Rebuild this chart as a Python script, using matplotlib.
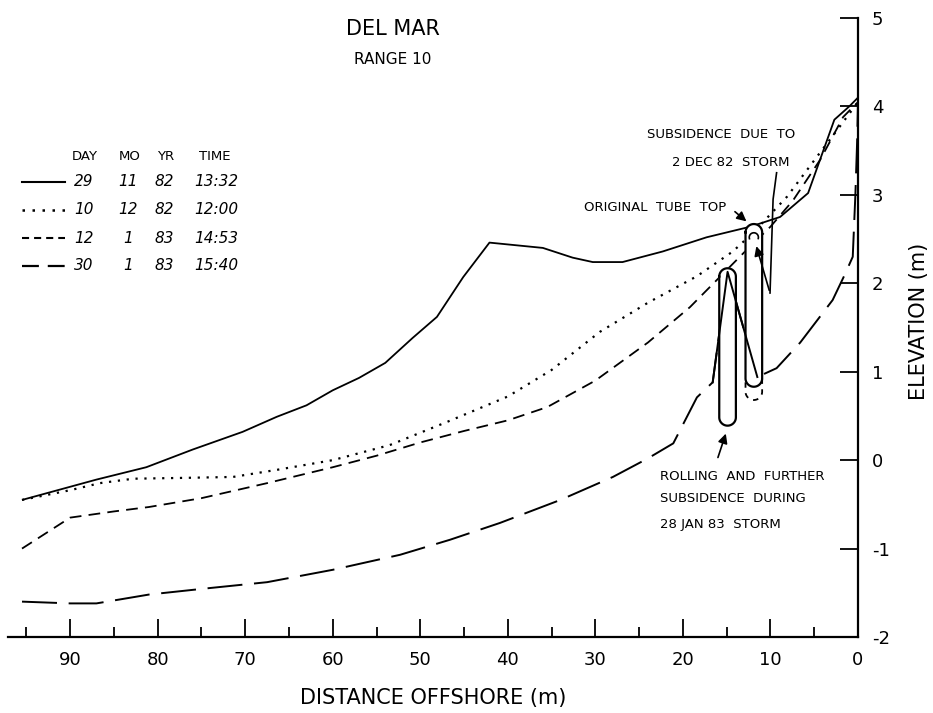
import numpy as np
import matplotlib
matplotlib.use("Agg")
import matplotlib.pyplot as plt

# Beach profiles, Del Mar range 10 (distance offshore in m, elevation in m)
x_29nov = [95.5, 87, 81.3, 76, 70.3, 66.4, 63, 60, 57, 54, 50.9, 48.1, 45.1, 42.1,
           36, 32.6, 30.3, 26.9, 22.3, 17.3, 12.3, 8.9, 5.7, 2.7, 1, 0]
y_29nov = [-0.45, -0.22, -0.08, 0.12, 0.32, 0.49, 0.62, 0.79, 0.93, 1.10, 1.38, 1.62, 2.07, 2.46,
           2.40, 2.29, 2.24, 2.24, 2.36, 2.52, 2.64, 2.75, 3.02, 3.85, 4.0, 4.1]

x_10dec = [95.5, 90, 86.6, 82.8, 76.7, 71.4, 66.4, 60, 53.5, 47, 40, 35, 29.5, 24,
           18.4, 14.3, 12, 8.1, 4.7, 2.1, 0]
y_10dec = [-0.45, -0.34, -0.26, -0.21, -0.20, -0.19, -0.11, 0.0, 0.17, 0.43, 0.72, 1.02, 1.45, 1.78,
           2.08, 2.36, 2.57, 2.98, 3.43, 3.77, 4.05]

x_12jan = [95.5, 90, 85, 81, 75, 67.5, 60, 55, 50, 45, 40, 35.5, 30, 24,
           19.2, 15.8, 13.1, 10, 7.4, 4.3, 1.7, 0]
y_12jan = [-1.0, -0.65, -0.58, -0.53, -0.43, -0.26, -0.08, 0.05, 0.2, 0.33, 0.45, 0.6, 0.9, 1.33,
           1.73, 2.07, 2.34, 2.64, 2.94, 3.40, 3.88, 4.05]

x_30jan = [95.5, 90, 87, 81, 74.4, 67.5, 60, 52.3, 46.6, 40.9, 34, 28, 24, 21.1,
           18.4, 16.6, 14.9, 11.5, 9.3, 6.6, 2.9, 1.5, 0.6, 0.3, 0.1, 0]
y_30jan = [-1.60, -1.62, -1.62, -1.52, -1.45, -1.38, -1.24, -1.07, -0.90, -0.71, -0.45, -0.19, 0.02, 0.19,
           0.71, 0.88, 2.13, 0.94, 1.04, 1.33, 1.81, 2.1, 2.3, 3.0, 3.6, 4.05]

# legend table
leg_day = ["29", "10", "12", "30"]
leg_mo = ["11", "12", "1", "1"]
leg_yr = ["82", "82", "83", "83"]
leg_time = ["13:32", "12:00", "14:53", "15:40"]

# sand-filled tubes: centre distance, top and bottom elevation
tube_x = [14.9, 11.9]
tube_top = [2.17, 2.67]
tube_bottom = [0.39, 0.83]
tube2_old_bottom = 0.68
tube_halfwidth = 0.95

xticks_major = np.arange(0, 91, 10)
xticks_minor = np.arange(5, 96, 10)
yticks = np.arange(-2, 6, 1)

styles = ['-', (0, (1, 3)), (0, (6.5, 4)), (0, (18, 6))]
leg_styles = ['-', (0, (1, 3)), (0, (3.4, 2.4)), (0, (7.6, 4))]
widths = [1.3, 1.6, 1.3, 1.4]
profiles = [(x_29nov, y_29nov), (x_10dec, y_10dec), (x_12jan, y_12jan), (x_30jan, y_30jan)]

plt.rcParams['font.family'] = ['DejaVu Sans']
plt.rcParams['axes.unicode_minus'] = False
fig = plt.figure(figsize=(9.33, 7.13), dpi=100)
ax = fig.add_axes([8 / 933, 76 / 713, 850 / 933, 619 / 713])
ax.set_xlim(97.1, 0)
ax.set_ylim(-2, 5)

for (xs, ys), ls, lw in zip(profiles, styles, widths):
    ax.plot(xs, ys, color='black', linestyle=ls, linewidth=lw, solid_capstyle='butt')

# axes look: only bottom and right spines, inward ticks
for side in ['top', 'left']:
    ax.spines[side].set_visible(False)
for side in ['bottom', 'right']:
    ax.spines[side].set_linewidth(1.6)
ax.yaxis.tick_right()
ax.set_xticks(xticks_major)
ax.set_xticks(xticks_minor, minor=True)
ax.set_yticks(yticks)
ax.tick_params(axis='x', which='major', direction='in', length=13, width=1.3, labelsize=13, pad=10)
ax.tick_params(axis='x', which='minor', direction='in', length=7, width=1.3)
ax.tick_params(axis='y', direction='in', length=13, width=1.3, labelsize=13, pad=10)
ax.set_xlabel("DISTANCE OFFSHORE (m)", fontsize=15, labelpad=14)
fig.text(919 / 933, 1 - 321 / 713, "ELEVATION (m)", fontsize=15, rotation=90,
         ha='center', va='center')

# tubes drawn as capsules (round ends look round on screen)
fig.canvas.draw()
p0 = ax.transData.transform((0, 0))
p1 = ax.transData.transform((1, 1))
ry_per_x = abs(p1[0] - p0[0]) / abs(p1[1] - p0[1])
ry = tube_halfwidth * ry_per_x
t = np.linspace(0, np.pi, 30)
for xc, top, bot in zip(tube_x, tube_top, tube_bottom):
    px = np.concatenate([xc + tube_halfwidth * np.cos(t), xc - tube_halfwidth * np.cos(t)])
    py = np.concatenate([top - ry + ry * np.sin(t), bot + ry - ry * np.sin(t)])
    px = np.append(px, px[0])
    py = np.append(py, py[0])
    ax.fill(px, py, color='white', zorder=3)
    ax.plot(px, py, color='black', linewidth=1.6, zorder=4)

# earlier (dashed) bottom of second tube
xc = tube_x[1]
dx = np.concatenate([[xc - tube_halfwidth], xc - tube_halfwidth * np.cos(t), [xc + tube_halfwidth]])
dy = np.concatenate([[tube_bottom[1] + ry], tube2_old_bottom + ry - ry * np.sin(t), [tube_bottom[1] + ry]])
ax.plot(dx, dy, color='black', linewidth=1.3, linestyle=(0, (3, 3)), zorder=4)
# small loop inside the top of second tube
ax.plot(xc + 0.55 * tube_halfwidth * np.cos(np.linspace(-0.3, 3.4, 30)),
        tube_top[1] - 1.6 * ry + 0.55 * ry * np.sin(np.linspace(-0.3, 3.4, 30)),
        color='black', linewidth=1.2, zorder=5)

# profile over first tube (30 Jan), drawn on top of tube outlines
ax.plot(x_30jan[15:18], y_30jan[15:18], color='black', linewidth=1.4, zorder=5)

# titles
ax.text(53.1, 4.87, "DEL MAR", fontsize=15, ha='center', va='center')
ax.text(53.1, 4.53, "RANGE 10", fontsize=11, ha='center', va='center')

# legend as a small table
ax.text(88.3, 3.43, "DAY", fontsize=9.5, ha='center', va='center')
ax.text(83.2, 3.43, "MO", fontsize=9.5, ha='center', va='center')
ax.text(79.1, 3.43, "YR", fontsize=9.5, ha='center', va='center')
ax.text(73.5, 3.43, "TIME", fontsize=9.5, ha='center', va='center')
row_y = [3.15, 2.83, 2.51, 2.20]
for i in range(4):
    ax.plot([95.5, 90.6], [row_y[i], row_y[i]], color='black',
            linestyle=leg_styles[i], linewidth=widths[i] + 0.2)
    ax.text(88.4, row_y[i], leg_day[i], fontsize=11, style='italic', ha='center', va='center')
    ax.text(83.4, row_y[i], leg_mo[i], fontsize=11, style='italic', ha='center', va='center')
    ax.text(79.2, row_y[i], leg_yr[i], fontsize=11, style='italic', ha='center', va='center')
    ax.text(73.3, row_y[i], leg_time[i], fontsize=11, style='italic', ha='center', va='center')

# annotations
ax.text(15.6, 3.68, "SUBSIDENCE  DUE  TO", fontsize=9.5, ha='center', va='center')
ax.text(14.5, 3.37, "2 DEC 82  STORM", fontsize=9.5, ha='center', va='center')
ax.plot([9.3, 9.7, 10.05], [3.25, 2.95, 1.89], color='black', linewidth=1.2, zorder=5)
ax.annotate("", xy=(11.7, 2.45), xytext=(10.05, 1.89),
            arrowprops=dict(arrowstyle='-|>', color='black', lw=1.2, mutation_scale=14), zorder=6)

ax.text(15.1, 2.86, "ORIGINAL  TUBE  TOP", fontsize=9.5, ha='right', va='center')
ax.annotate("", xy=(12.5, 2.68), xytext=(14.3, 2.83),
            arrowprops=dict(arrowstyle='-|>', color='black', lw=1.2, mutation_scale=14), zorder=6)

ax.text(22.6, -0.19, "ROLLING  AND  FURTHER", fontsize=9.5, ha='left', va='center')
ax.text(22.6, -0.43, "SUBSIDENCE  DURING", fontsize=9.5, ha='left', va='center')
ax.text(22.6, -0.73, "28 JAN 83  STORM", fontsize=9.5, ha='left', va='center')
ax.annotate("", xy=(15.0, 0.33), xytext=(16.1, 0.0),
            arrowprops=dict(arrowstyle='-|>', color='black', lw=1.2, mutation_scale=14), zorder=6)

fig.savefig("out.png", dpi=100)
